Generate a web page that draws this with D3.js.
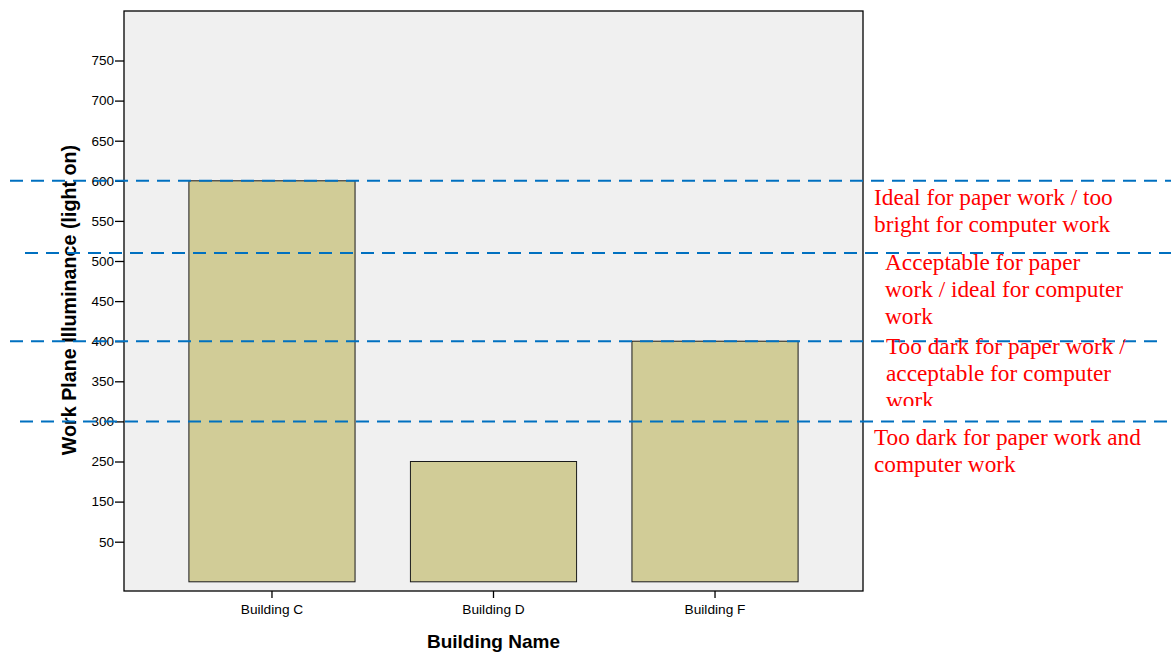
<!DOCTYPE html>
<html>
<head>
<meta charset="utf-8">
<script src="https://cdn.jsdelivr.net/npm/d3@7"></script>
<style>
  html, body { margin: 0; padding: 0; background: #ffffff; }
  svg { display: block; }
</style>
</head>
<body>
<svg id="chart" width="1171" height="652"></svg>
<script>
// ---------- data ----------
const categories = ["Building C", "Building D", "Building F"];
const values = [600, 250, 400];
const yTickValues = [50, 150, 250, 300, 350, 400, 450, 500, 550, 600, 650, 700, 750];
// axis of the original is non-uniform below 300 (ticks 50,150,250 evenly spaced)
const yBreakDomain = [0, 50, 150, 250, 300, 750];
const yBreakSteps = [0, 1, 2, 3, 4, 13];
const thresholds = [600, 510, 400, 300];
const annotationTexts = [
  ["Ideal for paper work / too", "bright for computer work"],
  ["Acceptable for paper", "work / ideal for computer", "work"],
  ["Too dark for paper work /", "acceptable for computer", "work"],
  ["Too dark for paper work and", "computer work"]
];
const xTitle = "Building Name";
const yTitle = "Work Plane Illuminance (light on)";

// ---------- layout ----------
const W = 1171, H = 652;
const plot = { left: 124, right: 863, top: 11, bottom: 591 };
const zeroY = 581.8, stepPx = 40.1;
const annLayout = [
  { x: 874, dy: 24 },
  { x: 885, dy: 17 },
  { x: 886, dy: 12.5, clipBottom: 406 },
  { x: 874, dy: 24 }
];
const lineStarts = [10, 25, 10, 20];
const lineEnds = [1171, 1171, 1160, 1171];
const lineHeight = 27;

const svg = d3.select("#chart");

const x = d3.scaleBand()
  .domain(categories)
  .range([plot.left, plot.right])
  .paddingInner(0.25)
  .paddingOuter(0.293);

const y = d3.scaleLinear()
  .domain(yBreakDomain)
  .range(yBreakSteps.map(s => zeroY - s * stepPx));

// plot background
svg.append("rect")
  .attr("x", plot.left).attr("y", plot.top)
  .attr("width", plot.right - plot.left)
  .attr("height", plot.bottom - plot.top)
  .attr("fill", "#f0f0f0");

// bars
svg.append("g").selectAll("rect")
  .data(categories)
  .join("rect")
  .attr("x", d => x(d))
  .attr("y", (d, i) => y(values[i]))
  .attr("width", x.bandwidth())
  .attr("height", (d, i) => y(0) - y(values[i]))
  .attr("fill", "#d1cc97")
  .attr("stroke", "#1a1a1a")
  .attr("stroke-width", 1);

// frame
svg.append("rect")
  .attr("x", plot.left).attr("y", plot.top)
  .attr("width", plot.right - plot.left)
  .attr("height", plot.bottom - plot.top)
  .attr("fill", "none")
  .attr("stroke", "#000")
  .attr("stroke-width", 1.3);

// y axis
const yAxis = d3.axisLeft(y)
  .tickValues(yTickValues)
  .tickFormat(d3.format("d"))
  .tickSize(9)
  .tickPadding(1);
const gy = svg.append("g")
  .attr("transform", `translate(${plot.left},0)`)
  .call(yAxis);
gy.select(".domain").remove();
gy.selectAll("line").attr("stroke", "#000").attr("stroke-width", 1.3);
gy.selectAll("text")
  .attr("font-family", "Arial, 'Liberation Sans', sans-serif")
  .attr("font-size", "13.5px")
  .attr("fill", "#000");

// x axis
const xAxis = d3.axisBottom(x).tickSize(7).tickPadding(6);
const gx = svg.append("g")
  .attr("transform", `translate(0,${plot.bottom})`)
  .call(xAxis);
gx.select(".domain").remove();
gx.selectAll("line").attr("stroke", "#000").attr("stroke-width", 1.3);
gx.selectAll("text")
  .attr("font-family", "Arial, 'Liberation Sans', sans-serif")
  .attr("font-size", "13.7px")
  .attr("fill", "#000");

// axis titles
svg.append("text")
  .attr("x", (plot.left + plot.right) / 2)
  .attr("y", 648)
  .attr("text-anchor", "middle")
  .attr("font-family", "Arial, 'Liberation Sans', sans-serif")
  .attr("font-weight", "bold")
  .attr("font-size", "19px")
  .text(xTitle);

svg.append("text")
  .attr("transform", `translate(76,300) rotate(-90)`)
  .attr("text-anchor", "middle")
  .attr("font-family", "Arial, 'Liberation Sans', sans-serif")
  .attr("font-weight", "bold")
  .attr("font-size", "19.7px")
  .text(yTitle);

// threshold dashed lines
svg.append("g").selectAll("line")
  .data(thresholds)
  .join("line")
  .attr("x1", (d, i) => lineStarts[i])
  .attr("x2", (d, i) => lineEnds[i])
  .attr("y1", d => y(d))
  .attr("y2", d => y(d))
  .attr("stroke", "#0070c0")
  .attr("stroke-width", 2)
  .attr("stroke-dasharray", "13,8");

// annotation clip
const defs = svg.append("defs");
annLayout.forEach((l, i) => {
  if (l.clipBottom) {
    defs.append("clipPath").attr("id", "clip" + i)
      .append("rect").attr("x", 0).attr("y", 0).attr("width", W).attr("height", l.clipBottom);
  }
});

// annotations
const ann = svg.append("g")
  .attr("font-family", "'Liberation Serif', 'Times New Roman', serif")
  .attr("font-size", "23.3px")
  .attr("fill", "#ff0000");
annotationTexts.forEach((lines, i) => {
  const l = annLayout[i];
  const t = ann.append("text")
    .attr("x", l.x)
    .attr("y", y(thresholds[i]) + l.dy);
  if (l.clipBottom) t.attr("clip-path", `url(#clip${i})`);
  lines.forEach((s, j) => {
    t.append("tspan")
      .attr("x", l.x)
      .attr("dy", j === 0 ? 0 : lineHeight)
      .text(s);
  });
});
</script>
</body>
</html>
